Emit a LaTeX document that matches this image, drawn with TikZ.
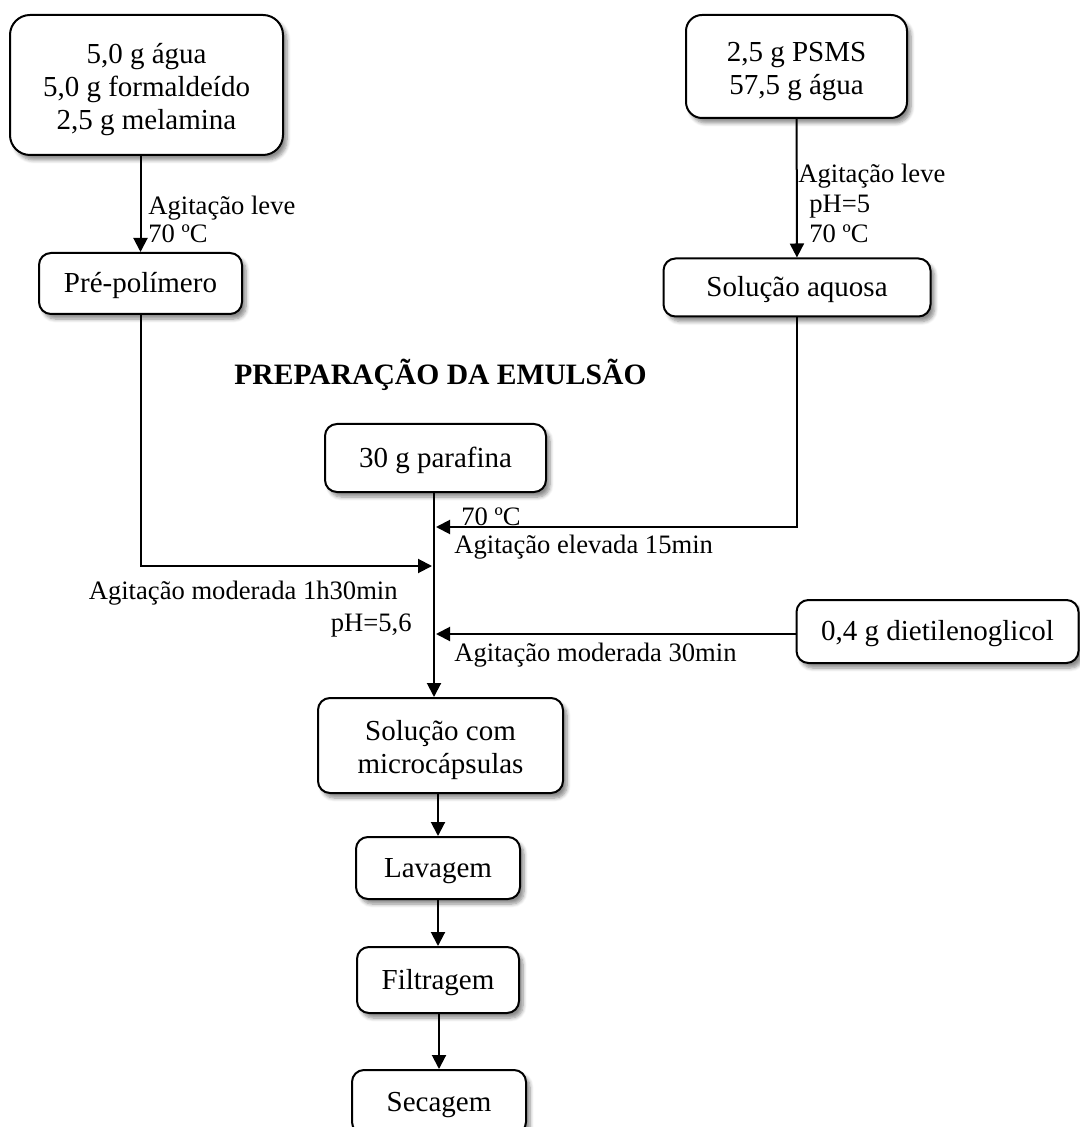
\documentclass[tikz,border=0pt]{standalone}
\usepackage{fontspec}
\setmainfont{Liberation Serif}
\usetikzlibrary{arrows.meta,positioning,shadows.blur}
\newcommand{\firstline}{\rule{0pt}{15pt}}

\begin{document}
\begin{tikzpicture}[
    x=0.5pt,y=-0.5pt,
    box/.style={draw=black,line width=1pt,rounded corners=6pt,fill=white,align=center,
                font=\fontsize{14.5}{16.5}\selectfont,inner sep=2pt,
                blur shadow={shadow xshift=2pt,shadow yshift=-2.5pt,shadow blur steps=6,shadow opacity=45}},
    onebox/.style={box,text height=12pt,text depth=3pt},
    lbl/.style={align=left,inner sep=0pt,font=\fontsize{13.3}{14}\selectfont},
    arrow/.style={-{Triangle[length=7pt,width=7pt]},line width=1pt}
  ]
    \useasboundingbox (0,0) rectangle (1079,1127);
    % entradas
    \node[box,rounded corners=10pt,minimum width=136.5pt,minimum height=70pt] (mix) at (146.5,85)
          {\firstline 5,0 g água\\5,0 g formaldeído\\2,5 g melamina};
    \node[box,rounded corners=8pt,minimum width=110.5pt,minimum height=51.5pt] (psms) at (796.5,66.5)
          {\firstline 2,5 g PSMS\\57,5 g água};
    \node[onebox,minimum width=101.5pt,minimum height=30.5pt] (pre) at (140.5,283.5) {Pré-polímero};
    \node[onebox,minimum width=133.5pt,minimum height=29pt] (aq) at (797,287.5) {Solução aquosa};
    \node[font=\bfseries\fontsize{14.8}{16}\selectfont] (title) at (440.5,375) {PREPARAÇÃO DA EMULSÃO};
    \node[onebox,minimum width=110.5pt,minimum height=34pt] (paraf) at (435.5,458) {30 g parafina};
    \node[onebox,minimum width=141pt,minimum height=31.5pt] (dietil) at (937.5,631.5) {0,4 g dietilenoglicol};
    % sequencia final
    \node[box,minimum width=122.5pt,minimum height=47.5pt] (micro) at (440.5,745.5)
          {\firstline Solução com\\microcápsulas};
    \node[onebox,minimum width=82pt,minimum height=31pt,below=21pt of micro.south,anchor=north,xshift=-1.25pt] (lav) {Lavagem};
    \node[onebox,minimum width=81pt,minimum height=33pt,below=23pt of lav.south,anchor=north] (filt) {Filtragem};
    \node[onebox,minimum width=87pt,minimum height=32pt,below=27.5pt of filt.south,anchor=north,xshift=0.5pt] (sec) {Secagem};
    % pontos de juncao
    \coordinate (top) at (434,492);
    \coordinate (j1) at (436,527);
    \coordinate (j2) at (432,566);
    \coordinate (j3) at (436,634);
    % setas
    \draw[arrow] (pre.north |- mix.south) -- (pre.north);
    \draw[arrow] (psms) -- (aq);
    \draw[arrow] (top) -- (micro.north -| top);
    \draw[arrow] (aq.south) |- (j1);
    \draw[arrow] (pre.south) |- (j2);
    \draw[arrow] (dietil.west |- j3) -- (j3);
    \draw[arrow] (lav.north |- micro.south) -- (lav.north);
    \draw[arrow] (lav) -- (filt);
    \draw[arrow] (sec.north |- filt.south) -- (sec.north);
    % rotulos
    \node[lbl,anchor=west] (l1) at (148,219) {Agitação leve\\70 ºC};
    \node[lbl,anchor=west,font=\fontsize{13.3}{15}\selectfont] (l2) at (798,203)
          {Agitação leve\\\hspace*{5.5pt}pH=5\\\hspace*{5.5pt}70 ºC};
    \node[lbl,anchor=west] (l3) at (461,517) {70 ºC};
    \node[lbl,anchor=west] (l4) at (454,547) {Agitação elevada 15min};
    \node[lbl,anchor=east,align=right,font=\fontsize{13.3}{16}\selectfont] (l5) at (412,609)
          {Agitação moderada 1h30min\hspace*{7pt}\\pH=5,6};
    \node[lbl,anchor=west] (l6) at (454,655) {Agitação moderada 30min};
  \end{tikzpicture}
\end{document}
